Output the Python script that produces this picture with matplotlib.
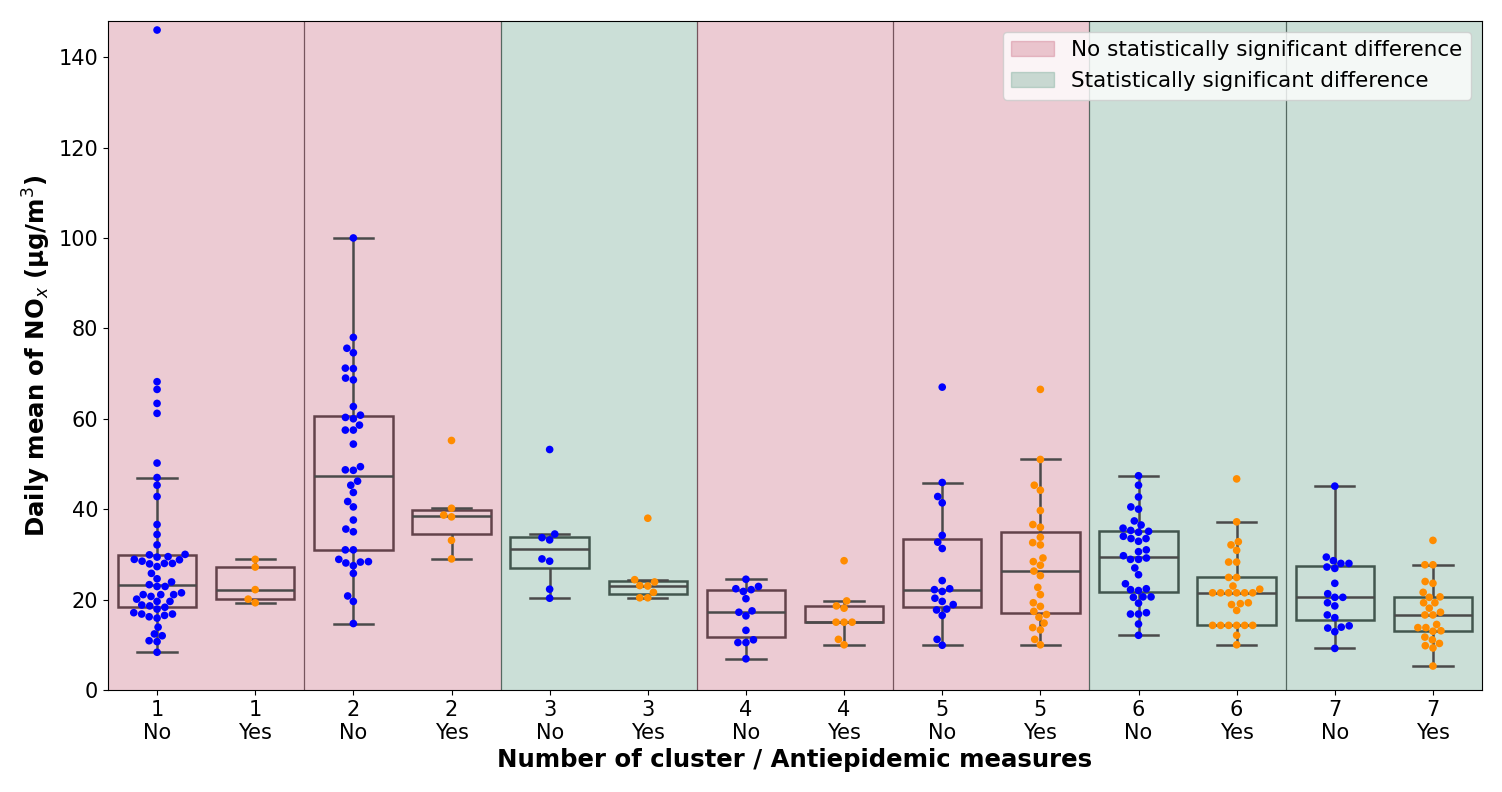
import matplotlib
matplotlib.use("Agg")
import matplotlib.pyplot as plt
from matplotlib.patches import Patch
import seaborn as sns
import pandas as pd

clusters = [1, 2, 3, 4, 5, 6, 7]
measures = ["No", "Yes"]
significant = [False, False, True, False, False, True, True]

c1_no = [146, 68.2, 66.5, 63.4, 61.2, 50.2, 47.0, 45.3, 42.8, 36.6, 34.4, 32.1,
         30.0, 29.9, 29.5, 29.4, 28.9, 28.8, 28.5, 28.0, 28.0, 27.9, 27.3, 25.8,
         24.6, 23.9, 23.3, 22.9, 22.9, 21.5, 21.1, 21.1, 21.1, 20.7, 20.1, 19.6,
         19.6, 18.8, 18.6, 18.3, 17.9, 17.1, 16.8, 16.8, 16.5, 16.2, 15.9, 13.9,
         12.4, 12.0, 10.9, 10.7, 8.35]
c1_yes = [28.9, 27.2, 22.2, 20.1, 19.3]
c2_no = [100.0, 78.0, 75.6, 74.6, 71.2, 71.1, 69.0, 68.6, 62.7, 60.8, 60.3, 60.0,
         58.6, 57.5, 57.5, 54.4, 49.4, 48.7, 48.6, 46.2, 45.3, 43.7, 41.7, 40.5,
         37.6, 35.6, 35.0, 31.0, 31.0, 28.9, 28.4, 28.3, 28.1, 27.5, 25.8, 20.8,
         19.6, 14.7]
c2_yes = [55.2, 40.2, 38.7, 38.3, 33.1, 29.0]
c3_no = [53.2, 34.5, 33.7, 33.2, 29.0, 28.5, 22.3, 20.3]
c3_yes = [38.0, 24.4, 23.9, 23.1, 23.0, 21.6, 20.4, 20.4]
c4_no = [24.5, 22.9, 22.4, 22.2, 21.8, 20.2, 17.5, 17.2, 16.4, 13.2, 11.1, 10.5,
         10.5, 6.9]
c4_yes = [28.6, 19.7, 18.6, 18.1, 15.0, 15.0, 15.0, 11.2, 10.0]
c5_no = [67.0, 45.9, 42.8, 41.4, 34.2, 32.7, 31.3, 24.2, 22.4, 22.2, 21.8, 20.3,
         19.6, 18.9, 17.9, 17.7, 16.5, 11.2, 9.9]
c5_yes = [66.5, 51.0, 45.3, 44.2, 39.7, 36.6, 36.0, 33.8, 32.6, 32.1, 29.2, 28.4,
          27.6, 26.3, 25.3, 22.7, 21.1, 19.3, 18.5, 17.4, 16.7, 16.1, 14.8, 13.8,
          13.3, 11.2, 10.0]
c6_no = [47.4, 45.3, 42.7, 40.5, 40.0, 37.4, 36.5, 35.8, 35.3, 35.1, 34.9, 34.0,
         33.5, 33.5, 32.9, 31.0, 30.6, 29.7, 29.2, 28.9, 28.9, 27.0, 25.5, 23.5,
         22.4, 22.2, 22.0, 20.6, 20.6, 20.5, 19.2, 17.1, 16.8, 16.8, 14.6, 12.1]
c6_yes = [46.7, 37.2, 32.8, 32.1, 30.9, 28.3, 28.3, 24.9, 24.9, 23.0, 22.3, 21.5,
          21.5, 21.5, 21.5, 21.5, 21.5, 19.3, 19.1, 18.9, 17.6, 14.3, 14.3, 14.3,
          14.3, 14.3, 14.3, 12.1, 10.0]
c7_no = [45.1, 29.4, 28.6, 28.0, 28.0, 27.2, 26.9, 23.6, 21.3, 20.5, 20.5, 19.3,
         18.6, 16.6, 16.0, 14.2, 13.9, 13.7, 12.9, 9.2]
c7_yes = [33.1, 27.7, 27.7, 24.0, 23.6, 21.6, 20.6, 20.5, 19.3, 19.3, 18.1, 17.2,
          16.6, 16.6, 14.5, 13.8, 13.8, 13.1, 13.0, 11.7, 11.1, 10.3, 9.8, 9.3, 5.3]

series = [(c1_no, c1_yes), (c2_no, c2_yes), (c3_no, c3_yes), (c4_no, c4_yes),
          (c5_no, c5_yes), (c6_no, c6_yes), (c7_no, c7_yes)]

rows = []
order = []
for cl, (no_vals, yes_vals) in zip(clusters, series):
    for m, vals in zip(measures, (no_vals, yes_vals)):
        key = f"{cl}\n{m}"
        order.append(key)
        for v in vals:
            rows.append({"group": key, "measure": m, "value": v})
df = pd.DataFrame(rows)

pink = (0.765, 0.333, 0.44)
green = (0.333, 0.596, 0.49)
span_alpha = 0.3

fig = plt.figure(figsize=(15.02, 7.92), dpi=100)
ax = fig.add_axes([0.0719, 0.1288, 0.9148, 0.8447])

sns.boxplot(data=df, x="group", y="value", order=order, showfliers=False,
            color="white", linewidth=1.8, width=0.8, ax=ax,
            boxprops=dict(edgecolor="#3a3a3a"),
            whiskerprops=dict(color="#4a4a4a"), capprops=dict(color="#4a4a4a"),
            medianprops=dict(color="#4a4a4a"))
for p in ax.patches:
    p.set_zorder(0.8)
for ln in ax.lines:
    ln.set_zorder(2)

for i in range(len(clusters) - 1):
    ax.axvline(2 * i + 1.5, color="#555555", lw=0.9, zorder=0.5)

for i, sig in enumerate(significant):
    ax.axvspan(2 * i - 0.5, 2 * i + 1.5, color=green if sig else pink,
               alpha=span_alpha, lw=0, zorder=1)

sns.swarmplot(data=df, x="group", y="value", order=order, hue="measure",
              palette={"No": "#0000FF", "Yes": "#FF8C00"}, size=5.5, ax=ax,
              legend=False, zorder=3)

ax.set_xlim(-0.5, 13.5)
ax.set_ylim(0, 148)
ax.set_yticks(range(0, 141, 20))
ax.tick_params(axis="both", labelsize=15)
ax.set_xlabel("Number of cluster / Antiepidemic measures", fontsize=17.6,
              fontweight="bold")
ax.set_ylabel("Daily mean of NO$_x$ (µg/m$^3$)", fontsize=17.6, fontweight="bold")

handles = [Patch(facecolor=pink, edgecolor=pink, alpha=span_alpha,
                 label="No statistically significant difference"),
           Patch(facecolor=green, edgecolor=green, alpha=span_alpha,
                 label="Statistically significant difference")]
ax.legend(handles=handles, loc="upper right", fontsize=15.5)

fig.savefig("out.png", dpi=100)
